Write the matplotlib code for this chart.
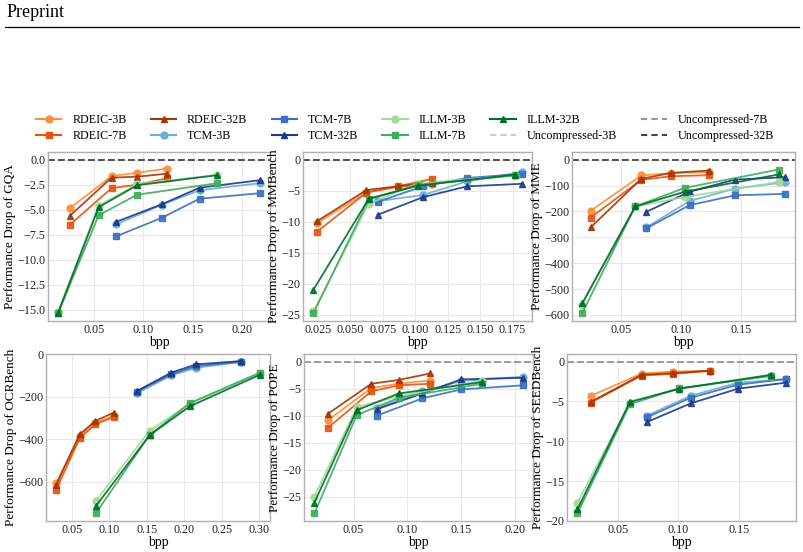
import matplotlib.pyplot as plt
from matplotlib.lines import Line2D
from matplotlib.ticker import MultipleLocator

plt.rcParams['font.family'] = ['Liberation Serif', 'DejaVu Serif']
plt.rcParams['axes.unicode_minus'] = True

models = ["3B", "7B", "32B"]
methods = ["RDEIC", "TCM", "ILLM"]

# bpp of each codec point, per benchmark
gqa_bpp = {"RDEIC": [0.026, 0.068, 0.094, 0.124],
           "TCM": [0.073, 0.119, 0.157, 0.218],
           "ILLM": [0.014, 0.055, 0.094, 0.175]}
mmb_bpp = {"RDEIC": [0.0245, 0.0624, 0.0865, 0.113],
           "TCM": [0.071, 0.106, 0.140, 0.182],
           "ILLM": [0.0215, 0.0642, 0.102, 0.177]}
mme_bpp = {"RDEIC": [0.025, 0.067, 0.092, 0.123],
           "TCM": [0.071, 0.107, 0.1445, 0.186],
           "ILLM": [0.018, 0.062, 0.103, 0.181]}
ocr_bpp = {"RDEIC": [0.029, 0.0605, 0.0815, 0.106],
           "TCM": [0.137, 0.1826, 0.216, 0.2765],
           "ILLM": [0.0823, 0.1537, 0.2073, 0.301]}
pope_bpp = {"RDEIC": [0.026, 0.0665, 0.092, 0.121],
            "TCM": [0.0717, 0.114, 0.150, 0.207],
            "ILLM": [0.0137, 0.053, 0.092, 0.1696]}
seed_bpp = {"RDEIC": [0.0272, 0.0694, 0.0953, 0.1264],
            "TCM": [0.0736, 0.110, 0.1494, 0.1889],
            "ILLM": [0.0161, 0.0597, 0.1006, 0.177]}

# performance drop vs. the uncompressed model
gqa_drop = {"RDEIC-3B": [-4.85, -1.65, -1.3, -0.9],
            "RDEIC-7B": [-6.5, -2.85, -2.5, -1.85],
            "RDEIC-32B": [-5.6, -1.8, -1.7, -1.4],
            "TCM-3B": [-6.45, -4.5, -3.05, -2.35],
            "TCM-7B": [-7.65, -5.8, -3.9, -3.35],
            "TCM-32B": [-6.2, -4.45, -2.8, -2.05],
            "ILLM-3B": [-15.2, -4.6, -2.45, -1.5],
            "ILLM-7B": [-15.35, -5.55, -3.5, -2.35],
            "ILLM-32B": [-15.3, -4.75, -2.55, -1.55]}
mmb_drop = {"RDEIC-3B": [-10.2, -5.3, -4.4, -4.0],
            "RDEIC-7B": [-11.6, -5.3, -4.3, -3.1],
            "RDEIC-32B": [-9.9, -4.9, -4.3, -3.7],
            "TCM-3B": [-6.7, -5.7, -3.5, -2.0],
            "TCM-7B": [-6.8, -4.3, -2.95, -2.3],
            "TCM-32B": [-8.9, -6.05, -4.3, -3.9],
            "ILLM-3B": [-24.5, -7.1, -3.85, -2.5],
            "ILLM-7B": [-24.8, -6.4, -4.1, -2.55],
            "ILLM-32B": [-21.0, -6.3, -4.2, -2.4]}
mme_drop = {"RDEIC-3B": [-198, -61, -52, -48],
            "RDEIC-7B": [-224, -78, -64, -60],
            "RDEIC-32B": [-262, -74, -51, -42],
            "TCM-3B": [-262, -160, -112, -87],
            "TCM-7B": [-266, -176, -138, -132],
            "TCM-32B": [-202, -124, -77, -68],
            "ILLM-3B": [-560, -181, -144, -86],
            "ILLM-7B": [-594, -181, -109, -38],
            "ILLM-32B": [-556, -181, -124, -57]}
ocr_drop = {"RDEIC-3B": [-606, -384, -321, -290],
            "RDEIC-7B": [-637, -395, -329, -295],
            "RDEIC-32B": [-614, -376, -313, -274],
            "TCM-3B": [-183, -99, -63, -36],
            "TCM-7B": [-175, -94, -55, -34],
            "TCM-32B": [-172, -86, -47, -31],
            "ILLM-3B": [-689, -360, -232, -88],
            "ILLM-7B": [-747, -380, -230, -86],
            "ILLM-32B": [-713, -381, -245, -96]}
pope_drop = {"RDEIC-3B": [-10.9, -4.9, -4.1, -3.5],
             "RDEIC-7B": [-12.3, -5.5, -4.4, -4.1],
             "RDEIC-32B": [-9.7, -4.1, -3.4, -2.2],
             "TCM-3B": [-8.6, -5.5, -3.6, -2.8],
             "TCM-7B": [-10.0, -6.8, -5.15, -4.4],
             "TCM-32B": [-8.8, -5.9, -3.3, -3.0],
             "ILLM-3B": [-25.0, -8.4, -6.4, -3.5],
             "ILLM-7B": [-28.1, -9.9, -6.7, -4.1],
             "ILLM-32B": [-26.1, -9.0, -5.9, -3.8]}
seed_drop = {"RDEIC-3B": [-4.3, -1.5, -1.25, -1.15],
             "RDEIC-7B": [-5.15, -1.75, -1.55, -1.15],
             "RDEIC-32B": [-5.05, -1.65, -1.45, -1.15],
             "TCM-3B": [-6.8, -4.3, -2.65, -2.2],
             "TCM-7B": [-7.0, -4.55, -2.9, -2.2],
             "TCM-32B": [-7.6, -5.25, -3.4, -2.65],
             "ILLM-3B": [-17.7, -5.2, -3.4, -1.8],
             "ILLM-7B": [-19.05, -5.35, -3.35, -1.8],
             "ILLM-32B": [-18.55, -5.05, -3.4, -1.65]}

benchmarks = ["GQA", "MMBench", "MME", "OCRBench", "POPE", "SEEDBench"]
bpp_tables = [gqa_bpp, mmb_bpp, mme_bpp, ocr_bpp, pope_bpp, seed_bpp]
drop_tables = [gqa_drop, mmb_drop, mme_drop, ocr_drop, pope_drop, seed_drop]
y_steps = [2.5, 5, 100, 200, 5, 5]
x_steps = [0.05, 0.025, 0.05, 0.05, 0.05, 0.05]

colors = {"RDEIC": ["#fd8d3c", "#e6550d", "#a63603"],
          "TCM": ["#6baed6", "#3a70c0", "#1c3a8a"],
          "ILLM": ["#a1d99b", "#41ab5d", "#006d2c"]}
markers = ["o", "s", "^"]
unc_colors = ["#cccccc", "#999999", "#444444"]

# axes boxes in pixels: left, right, top, bottom
W, H = 804, 552
boxes = [(48, 270, 152, 321), (303, 532, 152, 321), (572, 795, 152, 321),
         (46, 270, 354, 521), (304, 533, 354, 521), (567, 796, 354, 521)]

fig = plt.figure(figsize=(W / 100, H / 100), dpi=100)

for i, name in enumerate(benchmarks):
    l, r, t, b = boxes[i]
    ax = fig.add_axes([l / W, 1 - b / H, (r - l) / W, (b - t) / H])
    ax.set_facecolor("white")
    ax.grid(True, color="#e8e8e8", lw=0.8)
    ax.set_axisbelow(True)
    for sp in ax.spines.values():
        sp.set_color("#b0b0b0")
        sp.set_linewidth(1.0)
    ax.tick_params(length=0, labelsize=8.7, pad=2, colors="#222222")

    # bottom row shows the mid-grey reference line on top
    order = [2, 0, 1] if i >= 3 else [0, 1, 2]
    for k in order:
        ax.axhline(0, color=unc_colors[k], ls="--", lw=1.2, dashes=(4, 2), zorder=1)

    for m in methods:
        for j, size in enumerate(models):
            key = m + "-" + size
            ax.plot(bpp_tables[i][m], drop_tables[i][key], color=colors[m][j],
                    marker=markers[j], ms=5, lw=1.3, alpha=0.9, zorder=3)

    ax.xaxis.set_major_locator(MultipleLocator(x_steps[i]))
    ax.yaxis.set_major_locator(MultipleLocator(y_steps[i]))
    if name == "OCRBench":
        ax.set_ylim(-785, 2)
    ax.set_xlabel("bpp", fontsize=10, labelpad=0)
    ax.set_ylabel("Performance Drop of " + name, fontsize=9.5, labelpad=1)

handles = []
labels = []
for m in methods:
    for j, size in enumerate(models):
        handles.append(Line2D([], [], color=colors[m][j], marker=markers[j], ms=5, lw=1.5))
        labels.append(m + "-" + size)
for k, size in enumerate(models):
    handles.append(Line2D([], [], color=unc_colors[k], ls="--", lw=1.5, dashes=(3, 2)))
    labels.append("Uncompressed-" + size)

fig.legend(handles, labels, loc="center", bbox_to_anchor=(405 / W, 1 - 128 / H), ncol=6,
           frameon=False, fontsize=8.7, handlelength=2.1, columnspacing=2.0,
           labelspacing=0.3, handletextpad=0.9)

fig.text(7 / W, 1 - 4 / H, "Preprint", fontsize=13, va="top", ha="left")
fig.add_artist(Line2D([5 / W, 799 / W], [1 - 27 / H, 1 - 27 / H], transform=fig.transFigure,
                      color="black", lw=0.9))

fig.savefig("out.png", dpi=100)
